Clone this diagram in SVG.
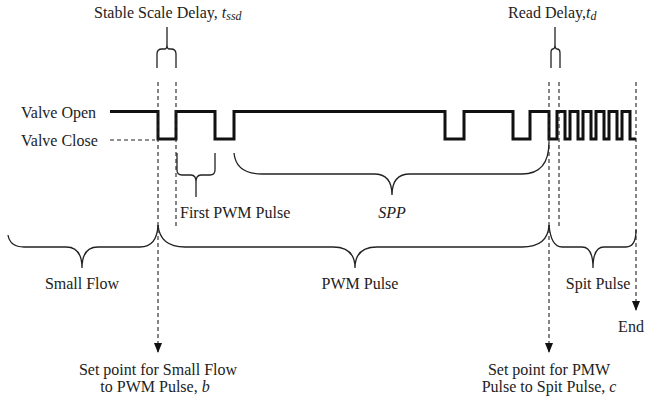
<svg xmlns="http://www.w3.org/2000/svg" width="645" height="408" viewBox="0 0 645 408">
<defs>
<style>
text{font-family:"Liberation Serif","Times New Roman",serif;font-size:16px;fill:#222}
.it{font-style:italic}
.sub{font-style:italic;font-size:12px}
.dash{stroke:#222;stroke-width:1.1;stroke-dasharray:4,3;fill:none}
.brace{stroke:#222;stroke-width:1.3;fill:none}
.wave{stroke:#111;stroke-width:3;fill:none;stroke-linejoin:miter}
</style>
<marker id="ah" markerWidth="10" markerHeight="8" refX="10" refY="4" orient="auto" markerUnits="userSpaceOnUse" viewBox="0 0 10 8">
<path d="M0,0 L10,4 L0,8 Z" fill="#111"/>
</marker>
</defs>
<rect width="645" height="408" fill="#fff"/>

<g id="labels">
<text x="21" y="118">Valve Open</text>
<text x="21" y="146">Valve Close</text>
<text x="94" y="18">Stable Scale Delay, <tspan class="it">t</tspan><tspan class="sub" dy="2">ssd</tspan></text>
<text x="508" y="18">Read Delay,<tspan class="it">t</tspan><tspan class="sub" dy="2">d</tspan></text>
</g>

<g id="waveform">
<path class="wave" d="M110,111.5 H158 V139 H176 V111.5 H215 V139 H234 V111.5 H445 V139 H464 V111.5 H513 V139 H530 V111.5 H549 V139 H557 V111.5 H565 V139 H570 V111.5 H578 V139 H583 V111.5 H591 V139 H596 V111.5 H604 V139 H609 V111.5 H617 V139 H622 V111.5 H630 V139 H636"/>
</g>

<g id="connectors">
<line class="dash" x1="110" y1="140" x2="155" y2="140"/>
<line class="dash" x1="158" y1="82" x2="158" y2="353" marker-end="url(#ah)"/>
<line class="dash" x1="176" y1="82" x2="176" y2="227"/>
<line class="dash" x1="549" y1="82" x2="549" y2="353" marker-end="url(#ah)"/>
<line class="dash" x1="559" y1="82" x2="559" y2="226"/>
<line class="dash" x1="636" y1="82" x2="636" y2="311" marker-end="url(#ah)"/>
</g>

<g id="brace-tssd">
<path class="brace" d="M157,68 V54 Q157,49 162,49 H165 Q167,49 167,44 V27 M167,44 Q167,49 169,49 H171 Q176,49 176,54 V68"/>
</g>
<g id="brace-td">
<path class="brace" d="M551,68 V53 Q551,49 553,49 H553 Q555,49 555,44 V27 M555,44 Q555,49 557,49 Q560,49 560,53 V68"/>
</g>

<g id="brace-first">
<path class="brace" d="M177,153 V170 Q177,175 182,175 H191 Q196,175 196,182 V197 M196,182 Q196,175 201,175 H210 Q215,175 215,170 V153"/>
<text x="180" y="218">First PWM Pulse</text>
</g>

<g id="brace-spp">
<path class="brace" d="M234,153 Q236,174 262,174 H374 Q392,174 392,195 Q392,174 410,174 H522 Q549,174 549,142"/>
<text class="it" x="392" y="218" text-anchor="middle">SPP</text>
</g>

<g id="brace-small">
<path class="brace" d="M8,235 Q10,247 24,247 H66 Q82,247 82,268 Q82,247 98,247 H140 Q157,247 158,225"/>
<text x="82" y="289" text-anchor="middle">Small Flow</text>
</g>

<g id="brace-pwm">
<path class="brace" d="M158,225 Q160,247 185,247 H333 Q355,247 355,268 Q355,247 377,247 H522 Q548,247 549,225"/>
<text x="360" y="289" text-anchor="middle">PWM Pulse</text>
</g>

<g id="brace-spit">
<path class="brace" d="M549,225 Q551,247 562,247 H582 Q593,247 593,268 Q593,247 604,247 H626 Q636,247 636,230"/>
<text x="598" y="289" text-anchor="middle">Spit Pulse</text>
</g>

<g id="end">
<text x="631" y="332" text-anchor="middle">End</text>
</g>

<g id="setpoint-b">
<text x="158" y="375" text-anchor="middle">Set point for Small Flow</text>
<text x="155" y="392" text-anchor="middle">to PWM Pulse, <tspan class="it">b</tspan></text>
</g>
<g id="setpoint-c">
<text x="549" y="375" text-anchor="middle">Set point for PMW</text>
<text x="549" y="392" text-anchor="middle">Pulse to Spit Pulse, <tspan class="it">c</tspan></text>
</g>
</svg>
